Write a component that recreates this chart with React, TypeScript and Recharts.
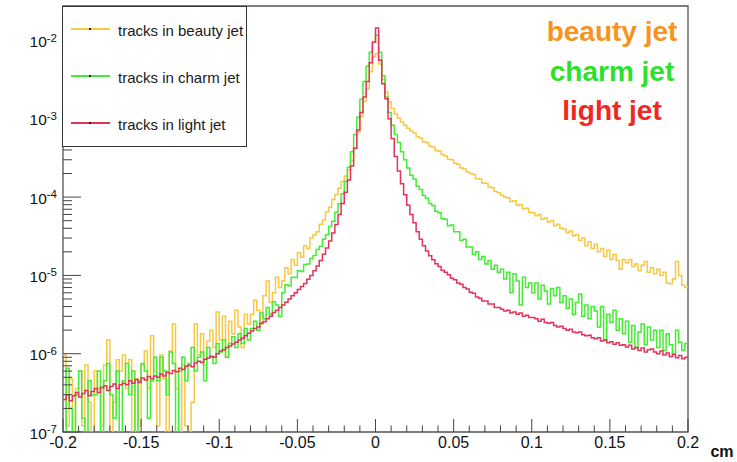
import React from 'react';
import { LineChart, Line, XAxis, YAxis, ReferenceArea, Legend } from 'recharts';

// Histogram binning (cm)
const X_MIN = -0.2;
const X_MAX = 0.2;
const BIN_WIDTH = 0.002;
const Y_MIN = 1e-7;
const Y_MAX = 2.76e-2;

// bin contents, 200 bins from -0.2 to 0.2 (1e-9 = empty bin)
const beauty = [
  9.6e-7, 1.2e-7, 4.8e-7, 1e-9, 3.6e-7, 6.0e-7, 1.2e-7, 7.2e-7, 2.4e-7, 1e-9,
  6.0e-7, 3.6e-7, 1.2e-7, 7.2e-7, 1.5e-6, 1e-9, 2.4e-7, 8.4e-7, 6.0e-7, 9.6e-7,
  3.6e-7, 8.4e-7, 1e-9, 4.8e-7, 1.2e-7, 7.2e-7, 1.08e-6, 3.6e-7, 1.7e-6, 6.0e-7,
  1.2e-7, 9.6e-7, 4.8e-7, 1e-9, 1.08e-6, 2.4e-6, 3.6e-7, 1e-9, 7.2e-7, 1.2e-7,
  1e-9, 2.4e-7, 2.4e-6, 9.6e-7, 1.8e-6, 7.2e-7, 1.44e-6, 2.0e-6, 1.2e-6, 3.4e-6,
  1.5e-6, 3.0e-6, 9.0e-7, 2.6e-6, 1.8e-6, 3.6e-6, 2.2e-6, 1.2e-6, 3.2e-6, 2.4e-6,
  3.2e-6, 4.8e-6, 3.6e-6, 2.4e-6, 5.5e-6, 8.5e-6, 4.5e-6, 6.0e-6, 9.5e-6, 7.0e-6,
  8.5e-6, 1.25e-5, 1.05e-5, 1.6e-5, 1.35e-5, 1.95e-5, 1.7e-5, 2.4e-5, 2.2e-5, 3.0e-5,
  3.3e-5, 3.6e-5, 4.5e-5, 5.1e-5, 6.5e-5, 7.4e-5, 9.3e-5, 1.08e-4, 1.3e-4, 1.58e-4,
  1.86e-4, 2.24e-4, 2.9e-4, 4.2e-4, 6.8e-4, 1.07e-3, 1.66e-3, 2.4e-3, 4.0e-3, 6.2e-3,
  6.8e-3, 5.0e-3, 3.2e-3, 2.2e-3, 1.65e-3, 1.35e-3, 1.15e-3, 1.02e-3, 9.1e-4, 8.3e-4,
  7.6e-4, 7.0e-4, 6.6e-4, 5.9e-4, 5.7e-4, 5.1e-4, 5.0e-4, 4.5e-4, 4.35e-4, 3.95e-4,
  3.85e-4, 3.5e-4, 3.35e-4, 3.05e-4, 3.0e-4, 2.7e-4, 2.62e-4, 2.35e-4, 2.28e-4, 2.1e-4,
  2.0e-4, 1.95e-4, 1.72e-4, 1.7e-4, 1.52e-4, 1.5e-4, 1.35e-4, 1.32e-4, 1.18e-4, 1.14e-4,
  1.05e-4, 1.0e-4, 9.8e-5, 8.8e-5, 9.0e-5, 7.9e-5, 8.0e-5, 7.1e-5, 7.2e-5, 6.4e-5,
  6.3e-5, 5.8e-5, 6.0e-5, 5.2e-5, 5.4e-5, 4.8e-5, 5.0e-5, 4.3e-5, 4.5e-5, 4.0e-5,
  3.9e-5, 3.5e-5, 3.7e-5, 3.2e-5, 3.3e-5, 2.8e-5, 3.0e-5, 2.4e-5, 2.7e-5, 2.2e-5,
  2.5e-5, 2.0e-5, 2.2e-5, 1.75e-5, 2.1e-5, 1.6e-5, 1.85e-5, 1.55e-5, 1.2e-5, 1.6e-5,
  1.45e-5, 1.6e-5, 1.3e-5, 1.4e-5, 1.15e-5, 1.35e-5, 1.5e-5, 1.1e-5, 1.25e-5, 1.05e-5,
  1.2e-5, 1.0e-5, 1.1e-5, 8.0e-6, 7.8e-6, 9.0e-6, 1.5e-5, 1.0e-5, 7.5e-6, 7.0e-6,
];

const charm = [
  1e-9, 6.5e-7, 2.0e-7, 1e-9, 3.0e-7, 6.0e-7, 1.5e-7, 1e-9, 4.5e-7, 3.0e-7,
  3.0e-7, 6.0e-7, 1e-9, 4.5e-7, 7.5e-7, 3.0e-7, 1.5e-7, 6.0e-7, 1e-9, 4.5e-7,
  7.5e-7, 3.0e-7, 6.0e-7, 1e-9, 4.5e-7, 7.5e-7, 6.0e-7, 1.5e-7, 4.5e-7, 9.0e-7,
  4.5e-7, 9.0e-7, 6.0e-7, 3.0e-7, 1.05e-6, 7.5e-7, 1e-9, 6.0e-7, 9.0e-7, 4.5e-7,
  7.5e-7, 1.2e-6, 6.0e-7, 9.0e-7, 1.05e-6, 4.5e-7, 1.2e-6, 9.0e-7, 7.5e-7, 1.35e-6,
  1.05e-6, 1.5e-6, 9.0e-7, 1.35e-6, 1.65e-6, 1.2e-6, 1.8e-6, 1.35e-6, 2.1e-6, 1.5e-6,
  2.1e-6, 2.6e-6, 2.0e-6, 3.3e-6, 2.8e-6, 3.9e-6, 3.2e-6, 4.6e-6, 4.2e-6, 3.0e-6,
  6.0e-6, 7.6e-6, 7.4e-6, 9.5e-6, 9.4e-6, 1.15e-5, 1.12e-5, 1.38e-5, 1.4e-5, 1.65e-5,
  1.8e-5, 2.15e-5, 2.35e-5, 2.9e-5, 3.3e-5, 4.2e-5, 4.9e-5, 6.4e-5, 8.2e-5, 1.1e-4,
  1.58e-4, 2.4e-4, 3.8e-4, 6.3e-4, 1.05e-3, 1.78e-3, 3.0e-3, 4.7e-3, 7.1e-3, 9.5e-3,
  1.17e-2, 7.1e-3, 3.55e-3, 1.9e-3, 1.2e-3, 8.3e-4, 6.3e-4, 5.0e-4, 3.8e-4, 3.0e-4,
  2.35e-4, 1.9e-4, 1.7e-4, 1.38e-4, 1.25e-4, 1.05e-4, 9.7e-5, 8.3e-5, 7.8e-5, 6.6e-5,
  6.3e-5, 5.3e-5, 5.2e-5, 4.3e-5, 4.4e-5, 3.6e-5, 3.6e-5, 2.8e-5, 2.9e-5, 2.3e-5,
  2.3e-5, 1.85e-5, 2.0e-5, 1.6e-5, 1.75e-5, 1.4e-5, 1.55e-5, 1.2e-5, 1.35e-5, 1.1e-5,
  1.2e-5, 9.0e-6, 1.1e-5, 6.0e-6, 1.05e-5, 8.5e-6, 4.2e-6, 9.5e-6, 7.0e-6, 8.0e-6,
  6.0e-6, 8.0e-6, 5.0e-6, 7.5e-6, 6.3e-6, 4.3e-6, 6.8e-6, 5.5e-6, 7.0e-6, 4.5e-6,
  5.5e-6, 3.8e-6, 5.0e-6, 3.2e-6, 4.5e-6, 5.8e-6, 3.0e-6, 4.2e-6, 2.8e-6, 4.0e-6,
  3.5e-6, 2.2e-6, 4.0e-6, 1.5e-6, 3.2e-6, 2.5e-6, 3.6e-6, 2.0e-6, 2.8e-6, 1.8e-6,
  2.6e-6, 1.4e-6, 2.3e-6, 1.2e-6, 1.9e-6, 2.4e-6, 1.3e-6, 2.2e-6, 1.5e-6, 2.0e-6,
  1.2e-6, 2.0e-6, 1.1e-6, 1.8e-6, 1.3e-6, 1.0e-6, 2.0e-6, 1.4e-6, 1.1e-6, 1.35e-6,
];

const light = [
  2.6e-7, 3.0e-7, 2.5e-7, 2.9e-7, 3.2e-7, 2.8e-7, 3.1e-7, 3.4e-7, 2.9e-7, 3.3e-7,
  3.6e-7, 3.2e-7, 3.7e-7, 3.9e-7, 3.4e-7, 3.8e-7, 4.1e-7, 3.6e-7, 4.0e-7, 4.2e-7,
  4.0e-7, 4.5e-7, 4.2e-7, 4.7e-7, 4.3e-7, 4.9e-7, 4.6e-7, 5.1e-7, 4.8e-7, 5.2e-7,
  5.0e-7, 5.5e-7, 5.2e-7, 5.8e-7, 5.6e-7, 6.1e-7, 5.9e-7, 6.5e-7, 6.3e-7, 6.9e-7,
  7.1e-7, 6.8e-7, 7.6e-7, 8.0e-7, 7.7e-7, 8.5e-7, 8.8e-7, 9.3e-7, 9.0e-7, 1.0e-6,
  1.08e-6, 1.12e-6, 1.2e-6, 1.25e-6, 1.33e-6, 1.4e-6, 1.5e-6, 1.58e-6, 1.7e-6, 1.82e-6,
  1.95e-6, 2.1e-6, 2.2e-6, 2.45e-6, 2.55e-6, 2.8e-6, 3.0e-6, 3.35e-6, 3.6e-6, 3.9e-6,
  4.2e-6, 4.55e-6, 5.0e-6, 5.5e-6, 6.0e-6, 6.6e-6, 7.2e-6, 7.9e-6, 8.9e-6, 1.0e-5,
  1.15e-5, 1.32e-5, 1.55e-5, 1.86e-5, 2.24e-5, 2.75e-5, 3.47e-5, 4.47e-5, 6.0e-5, 8.3e-5,
  1.15e-4, 1.66e-4, 2.5e-4, 4.2e-4, 7.2e-4, 1.2e-3, 1.9e-3, 3.0e-3, 5.2e-3, 9.5e-3,
  1.45e-2, 5.6e-3, 2.8e-3, 1.8e-3, 1.0e-3, 5.6e-4, 3.3e-4, 2.15e-4, 1.48e-4, 1.07e-4,
  7.9e-5, 6.0e-5, 4.7e-5, 3.6e-5, 2.9e-5, 2.4e-5, 2.05e-5, 1.78e-5, 1.58e-5, 1.41e-5,
  1.3e-5, 1.16e-5, 1.1e-5, 1.02e-5, 9.2e-6, 8.8e-6, 8.0e-6, 7.7e-6, 7.0e-6, 6.7e-6,
  6.1e-6, 5.9e-6, 5.3e-6, 5.1e-6, 4.7e-6, 4.7e-6, 4.3e-6, 4.3e-6, 3.9e-6, 3.9e-6,
  3.7e-6, 3.5e-6, 3.6e-6, 3.3e-6, 3.4e-6, 3.2e-6, 3.3e-6, 3.0e-6, 3.1e-6, 2.9e-6,
  2.9e-6, 2.8e-6, 2.6e-6, 2.75e-6, 2.5e-6, 2.45e-6, 2.5e-6, 2.3e-6, 2.2e-6, 2.25e-6,
  2.1e-6, 2.0e-6, 2.05e-6, 1.9e-6, 1.85e-6, 1.9e-6, 1.75e-6, 1.7e-6, 1.72e-6, 1.6e-6,
  1.55e-6, 1.6e-6, 1.45e-6, 1.5e-6, 1.38e-6, 1.42e-6, 1.32e-6, 1.38e-6, 1.28e-6, 1.3e-6,
  1.22e-6, 1.28e-6, 1.15e-6, 1.2e-6, 1.1e-6, 1.18e-6, 1.05e-6, 1.12e-6, 1.15e-6, 1.05e-6,
  1.0e-6, 1.08e-6, 9.6e-7, 1.02e-6, 9.2e-7, 9.8e-7, 8.9e-7, 9.5e-7, 8.6e-7, 9.0e-7,
];

const SERIES_KEYS = ['beauty', 'charm', 'light'];
const SERIES_NAMES = ['tracks in beauty jet', 'tracks in charm jet', 'tracks in light jet'];
const SERIES_COLORS = ['#f7c843', '#44ec33', '#e6335a'];
const JET_LABELS = ['beauty jet', 'charm jet', 'light jet'];
const JET_COLORS = ['#f7931e', '#2ee02a', '#f0281e'];

const X_MAJOR_TICKS = [-0.2, -0.15, -0.1, -0.05, 0, 0.05, 0.1, 0.15, 0.2];
const X_TICK_LABELS = ['-0.2', '-0.15', '-0.1', '-0.05', '0', '0.05', '0.1', '0.15', '0.2'];
const X_MINOR_TICKS = [
  -0.19, -0.18, -0.17, -0.16, -0.14, -0.13, -0.12, -0.11, -0.09, -0.08, -0.07, -0.06,
  -0.04, -0.03, -0.02, -0.01, 0.01, 0.02, 0.03, 0.04, 0.06, 0.07, 0.08, 0.09,
  0.11, 0.12, 0.13, 0.14, 0.16, 0.17, 0.18, 0.19,
];
const Y_MAJOR_TICKS = [1e-7, 1e-6, 1e-5, 1e-4, 1e-3, 1e-2];
const Y_EXPONENT_LABELS = ['-7', '-6', '-5', '-4', '-3', '-2'];
const Y_MINOR_FACTORS = [2, 3, 4, 5, 6, 7, 8, 9];

const Y_MINOR_TICKS: number[] = [];
Y_MAJOR_TICKS.forEach((m) => Y_MINOR_FACTORS.forEach((f) => { if (m * f <= Y_MAX) Y_MINOR_TICKS.push(m * f); }));
const Y_TICKS = [...Y_MAJOR_TICKS, ...Y_MINOR_TICKS].sort((a, b) => a - b);
const X_TICKS = [...X_MAJOR_TICKS, ...X_MINOR_TICKS].sort((a, b) => a - b);

const rows: any[] = beauty.map((_, i) => ({
  x: +(X_MIN + i * BIN_WIDTH).toFixed(4),
  beauty: beauty[i],
  charm: charm[i],
  light: light[i],
}));
rows.push({ x: X_MAX, beauty: beauty[beauty.length - 1], charm: charm[charm.length - 1], light: light[light.length - 1] });

const FONT = '"Liberation Sans", Arial, Helvetica, sans-serif';
const AXIS_COLOR = '#444';

const XTick = (props: any) => {
  const { x, y, payload } = props;
  const idx = X_MAJOR_TICKS.findIndex((t) => Math.abs(t - payload.value) < 1e-9);
  const major = idx >= 0;
  return (
    <g>
      <line x1={x} x2={x} y1={y} y2={y - (major ? 13 : 6.5)} stroke={AXIS_COLOR} strokeWidth={1} />
      {major && (
        <text x={x} y={y + 15.5} textAnchor="middle" fontSize={16} fontFamily={FONT} fill="#111">
          {X_TICK_LABELS[idx]}
        </text>
      )}
    </g>
  );
};

const YTick = (props: any) => {
  const { x, y, payload } = props;
  const idx = Y_MAJOR_TICKS.findIndex((t) => Math.abs(Math.log10(t) - Math.log10(payload.value)) < 1e-6);
  const major = idx >= 0;
  return (
    <g>
      <line x1={x} x2={x + (major ? 18 : 9)} y1={y} y2={y} stroke={AXIS_COLOR} strokeWidth={1} />
      {major && (
        <text x={x - 6} y={y + 6.5} textAnchor="end" fontSize={15.5} fontFamily={FONT} fill="#111">
          10
          <tspan dy={-5.5} fontSize={11.5}>{Y_EXPONENT_LABELS[idx]}</tspan>
        </text>
      )}
    </g>
  );
};

const LEGEND_ROW_Y = [22, 69, 116];

const LegendBox = () => (
  <div
    style={{
      position: 'relative',
      width: 185,
      height: 141,
      boxSizing: 'border-box',
      border: '1px solid #333',
      background: '#fff',
      fontFamily: FONT,
    }}
  >
    {SERIES_KEYS.map((k, i) => (
      <React.Fragment key={k}>
        <div
          style={{
            position: 'absolute',
            left: 8,
            top: LEGEND_ROW_Y[i] - 1,
            width: 39,
            height: 1.5,
            background: SERIES_COLORS[i],
          }}
        />
        <div
          style={{
            position: 'absolute',
            left: 26,
            top: LEGEND_ROW_Y[i] - 1,
            width: 2,
            height: 2,
            background: '#222',
          }}
        />
        <div
          style={{
            position: 'absolute',
            left: 55,
            top: LEGEND_ROW_Y[i] - 6.5,
            fontSize: 15,
            lineHeight: '15px',
            color: '#1a1a1a',
            whiteSpace: 'nowrap',
          }}
        >
          {SERIES_NAMES[i]}
        </div>
      </React.Fragment>
    ))}
  </div>
);

const JET_BASELINES = [42, 82, 121];

export default function App() {
  return (
    <div style={{ position: 'absolute', left: 0, top: 0, width: 737, height: 462, background: '#fff', fontFamily: FONT }}>
      <LineChart width={737} height={462} data={rows} margin={{ top: 6, right: 49, bottom: 0, left: 0 }}>
        <XAxis
          type="number"
          dataKey="x"
          domain={[X_MIN, X_MAX]}
          allowDataOverflow
          ticks={X_TICKS}
          interval={0}
          tick={(p: any) => <XTick {...p} />}
          tickLine={false}
          axisLine={false}
          tickSize={0}
          tickMargin={0}
          height={30}
        />
        <YAxis
          type="number"
          scale="log"
          domain={[Y_MIN, Y_MAX]}
          allowDataOverflow
          ticks={Y_TICKS}
          interval={0}
          tick={(p: any) => <YTick {...p} />}
          tickLine={false}
          axisLine={false}
          tickSize={0}
          tickMargin={0}
          width={63}
        />
        {SERIES_KEYS.map((k, i) => (
          <Line
            key={k}
            dataKey={k}
            name={SERIES_NAMES[i]}
            type="stepAfter"
            stroke={SERIES_COLORS[i]}
            strokeWidth={1.5}
            dot={false}
            activeDot={false}
            isAnimationActive={false}
          />
        ))}
        <ReferenceArea
          x1={X_MIN}
          x2={X_MAX}
          y1={Y_MIN}
          y2={Y_MAX}
          fill="none"
          fillOpacity={0}
          stroke="#555"
          strokeWidth={1.3}
          ifOverflow="visible"
        />
        <Legend
          layout="vertical"
          align="center"
          verticalAlign="middle"
          content={() => <LegendBox />}
          wrapperStyle={{ left: 62, top: 6, width: 185, height: 141 }}
        />
      </LineChart>
      {JET_LABELS.map((t, i) => (
        <div
          key={t}
          style={{
            position: 'absolute',
            left: 512,
            width: 200,
            textAlign: 'center',
            top: JET_BASELINES[i] - 0.8465 * 28,
            fontSize: 28,
            lineHeight: '28px',
            fontWeight: 'bold',
            color: JET_COLORS[i],
            whiteSpace: 'nowrap',
          }}
        >
          {t}
        </div>
      ))}
      <div
        style={{
          position: 'absolute',
          left: 706,
          width: 32,
          textAlign: 'center',
          top: 458 - 0.8465 * 16,
          fontSize: 16,
          lineHeight: '16px',
          fontWeight: 'bold',
          color: '#111',
        }}
      >
        cm
      </div>
    </div>
  );
}
